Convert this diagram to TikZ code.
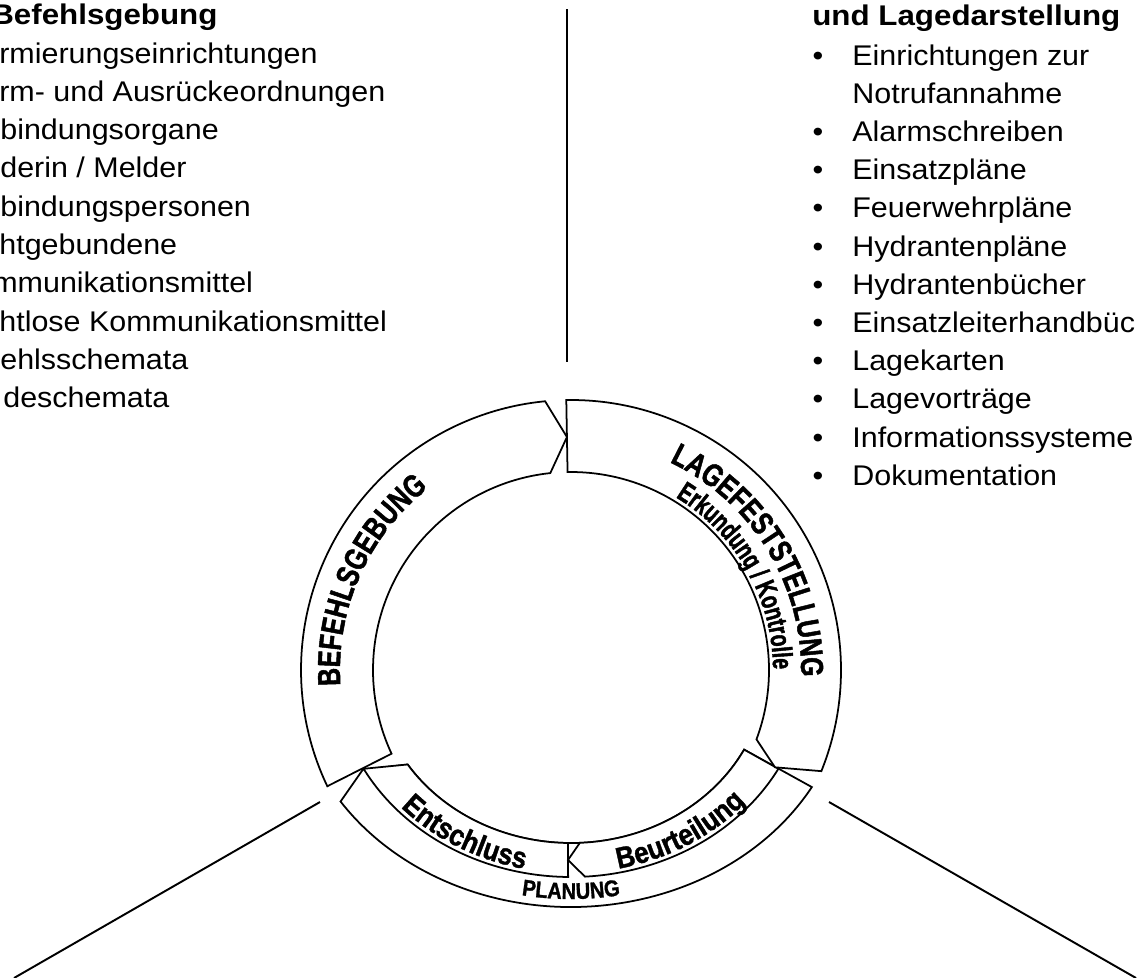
\documentclass[tikz,border=0pt]{standalone}
\usepackage{fontspec}
\setmainfont{Liberation Sans}
\newfontfamily\listfont[FakeStretch=1.07]{Liberation Sans}
\newfontfamily\headfont[FakeStretch=1.1]{Liberation Sans}
\newfontfamily\ringfont[FakeStretch=0.78,FakeBold=1.5]{Liberation Sans}
\newfontfamily\ringfontsmall[FakeStretch=0.7,FakeBold=1.5]{Liberation Sans}
\newfontfamily\segfamily[FakeStretch=0.88,FakeBold=1.2]{Liberation Sans}
\usetikzlibrary{decorations.text}

% fonts for the texts on the ring
\newcommand\ringbig{\ringfont\bfseries\fontsize{18.1}{20}\selectfont}
\newcommand\ringsmall{\ringfontsmall\bfseries\fontsize{16}{18}\selectfont}
\newcommand\segfont{\segfamily\bfseries\fontsize{17}{19}\selectfont}
\newcommand\planungfont{\segfamily\bfseries\fontsize{13}{15}\selectfont}

\begin{document}
\begin{tikzpicture}[
    x=0.02cm, y=-0.02cm,
    ringpart/.style={draw, fill=white, line width=1pt, line join=miter},
    connector/.style={draw, line width=1.1pt},
    listitem/.style={anchor=base west, inner sep=0pt, font=\listfont\fontsize{16.2}{21.7}\selectfont},
    listbullet/.style={anchor=base, inner sep=0pt, font=\listfont\fontsize{16.2}{21.7}\selectfont},
    listhead/.style={anchor=base west, inner sep=0pt, font=\headfont\bfseries\fontsize{16.2}{21.7}\selectfont},
    ringtext/.style={decorate, decoration={text along path, text align=center, text={#1}}}
  ]
  \useasboundingbox (0,0) rectangle (1138,977);
  \clip (0,0) rectangle (1138,977);

  % headings
  \node[listhead] (befehlkopf) at (-9,24) {Befehlsgebung};
  \node[listhead] (lagekopf) at (812,25) {und Lagedarstellung};

  % left list, cut at the page edge
  \foreach \dx/\txt [count=\i from 0] in {-1/rmierungseinrichtungen, -1/{rm- und Ausrückeordnungen},
      0/bindungsorgane, 0/{derin / Melder}, 0/bindungspersonen, -1/htgebundene,
      -8/mmunikationsmittel, -1/{htlose Kommunikationsmittel}, 0/ehlsschemata, 3/deschemata}
    \node[listitem] (befehl\i) at (\dx, 63+38.3*\i) {\txt};

  % right list
  \foreach \b/\txt [count=\i from 0] in {1/Einrichtungen zur, 0/Notrufannahme, 1/Alarmschreiben,
      1/Einsatzpläne, 1/Feuerwehrpläne, 1/Hydrantenpläne, 1/Hydrantenbücher,
      1/Einsatzleiterhandbüc, 1/Lagekarten, 1/Lagevorträge, 1/Informationssysteme, 1/Dokumentation} {
    \node[listitem] (lage\i) at (852, 65+38.2*\i) {\txt};
    \ifnum\b=1 \node[listbullet] (lagepunkt\i) at (818, 65+38.2*\i) {\textbullet}; \fi
  }

  % lines towards the text blocks
  \coordinate (obenA) at (567,9);
  \coordinate (obenB) at (567,362);
  \coordinate (linksA) at (320,802);
  \coordinate (linksB) at (14,978);
  \coordinate (rechtsA) at (829,802);
  \coordinate (rechtsB) at (1136,978);
  \draw[connector] (obenA) -- (obenB);
  \draw[connector] (linksA) -- (linksB);
  \draw[connector] (rechtsA) -- (rechtsB);

  % the ring
  \begin{scope}[shift={(571,670)}, y=0.02cm]
    % Planung
    \draw[ringpart] (-29.6:277 and 237) arc[start angle=-29.6, end angle=-146.3, x radius=277, y radius=237]
      -- (205.6:231) -- (-146.9:195 and 173)
      arc[start angle=-146.9, end angle=-27.4, x radius=195, y radius=173] -- cycle;
    % Entschluss
    \draw[ringpart] (-90.7:236 and 207) arc[start angle=-90.7, end angle=-151.5, x radius=236, y radius=207]
      -- (-146.9:195 and 173)
      arc[start angle=-146.9, end angle=-90.9, x radius=195, y radius=173] -- cycle;
    % Beurteilung
    \draw[ringpart] (-28.5:236 and 207) arc[start angle=-28.5, end angle=-86.6, x radius=236, y radius=207]
      -- (-3,-190) -- (-87.4:195 and 173)
      arc[start angle=-87.4, end angle=-27.4, x radius=195, y radius=173] -- cycle;
    % Befehlsgebung
    \draw[ringpart] (205.5:270) arc[start angle=205.5, end angle=95.5, radius=270]
      -- (91:233) -- (96:198) arc[start angle=96, end angle=205, radius=198] -- cycle;
    % Lagefeststellung
    \draw[ringpart] (91:270) arc[start angle=91, end angle=-22, radius=270]
      -- (-25.5:226) -- (-20.5:198) arc[start angle=-20.5, end angle=91, radius=198] -- cycle;

    % texts on the ring
    \path[ringtext={|\ringbig|BEFEHLSGEBUNG}] (200:231) arc[start angle=200, end angle=112, radius=231];
    \path[ringtext={|\ringbig|LAGEFESTSTELLUNG}] (75:230) arc[start angle=75, end angle=-12, radius=230];
    \path[ringtext={|\ringsmall|Erkundung / Kontrolle}] (68:202) arc[start angle=68, end angle=-9, radius=202];
    \path[ringtext={|\segfont|Entschluss}] (-150:231 and 203) arc[start angle=-150, end angle=-90, x radius=231, y radius=203];
    \path[ringtext={|\segfont|Beurteilung}] (-89:231 and 203) arc[start angle=-89, end angle=-29, x radius=231, y radius=203];
    \path[ringtext={|\planungfont|PLANUNG}] (-115:268 and 229) arc[start angle=-115, end angle=-65, x radius=268, y radius=229];
  \end{scope}
\end{tikzpicture}
\end{document}
